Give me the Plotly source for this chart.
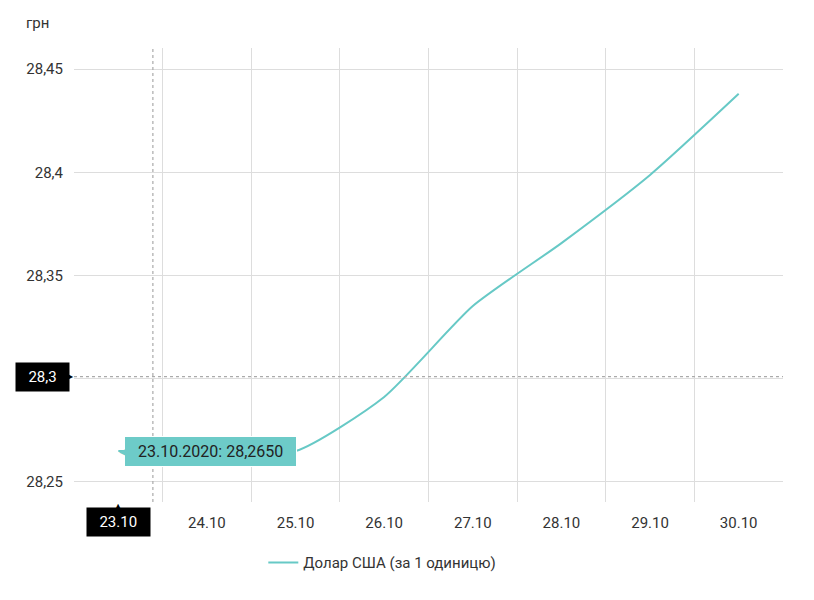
import plotly.graph_objects as go

categories = ["23.10", "24.10", "25.10", "26.10", "27.10", "28.10", "29.10", "30.10"]
rates = [28.265, 28.265, 28.265, 28.2912, 28.3352, 28.3657, 28.3987, 28.4380]
y_tickvals = [28.25, 28.30, 28.35, 28.40, 28.45]
y_ticktext = ["28,25", "28,3", "28,35", "28,4", "28,45"]
series_name = "Долар США (за 1 одиницю)"
y_unit = "грн"
tooltip_text = "23.10.2020: 28,2650"
cursor_x_pos = 0.39
cursor_y_value = 28.301
cursor_y_label = "28,3"
cursor_x_index = 0
cursor_x_label = "23.10"

LINE = "#67C9C6"
TIP = "#6DCBC8"
FONT = "Roboto"
TXT = "#333333"
GRID = "#dddddd"
NB = "\u00a0"

# the cursor labels sit on top of these tick labels in the reference
x_ticktext = ["" if c == cursor_x_label else c for c in categories]
y_ticktext_shown = ["" if t == cursor_y_label else t for t in y_ticktext]

fig = go.Figure()
fig.add_trace(go.Scatter(
    x=categories, y=rates, mode="lines", name=series_name,
    line=dict(color=LINE, width=2, shape="spline", smoothing=0.6),
    hoverinfo="skip",
))

# crosshair lines (cursor)
fig.add_shape(type="line", xref="x", yref="paper", x0=cursor_x_pos, x1=cursor_x_pos, y0=0, y1=1,
              line=dict(color="#aaaaaa", width=1.2, dash="dot"), layer="above")
fig.add_shape(type="line", xref="paper", yref="y", x0=0, x1=1,
              y0=cursor_y_value, y1=cursor_y_value,
              line=dict(color="#aaaaaa", width=1.2, dash="dot"), layer="above")

# tooltip
fig.add_annotation(x=0, y=rates[0], xref="x", yref="y",
                   text=NB * 2 + tooltip_text + NB * 2, showarrow=False, xanchor="left", yanchor="middle",
                   xshift=6, bgcolor=TIP, bordercolor="#ffffff", borderwidth=1, borderpad=5,
                   font=dict(family=FONT, size=16, color="#222222"))
fig.add_annotation(x=0, y=rates[0], xref="x", yref="y",
                   text="◀", showarrow=False, xanchor="left", yanchor="middle",
                   xshift=-1, font=dict(family="DejaVu Sans", size=10, color=TIP))

# y cursor label
fig.add_annotation(x=0, y=cursor_y_value, xref="paper", yref="y",
                   text=NB * 2 + cursor_y_label + NB * 2, showarrow=False,
                   xanchor="right", yanchor="middle", xshift=-4,
                   bgcolor="#000000", borderpad=5,
                   font=dict(family=FONT, size=15, color="#ffffff"))
fig.add_annotation(x=0, y=cursor_y_value, xref="paper", yref="y",
                   text="▶", showarrow=False, xanchor="right", yanchor="middle",
                   xshift=1, borderpad=0, font=dict(family="DejaVu Sans", size=8, color="#000000"))
# x cursor label
fig.add_annotation(x=cursor_x_index, y=0, xref="x", yref="paper",
                   text=NB * 2 + cursor_x_label + NB * 2, showarrow=False,
                   xanchor="center", yanchor="top", yshift=-5,
                   bgcolor="#000000", borderpad=5,
                   font=dict(family=FONT, size=15, color="#ffffff"))
fig.add_annotation(x=cursor_x_index, y=0, xref="x", yref="paper",
                   text="▲", showarrow=False, xanchor="center", yanchor="top",
                   yshift=1, borderpad=0, font=dict(family="DejaVu Sans", size=8, color="#000000"))

# unit label
fig.add_annotation(x=-0.07, y=1.055, xref="paper", yref="paper",
                   text=y_unit, showarrow=False, xanchor="left", yanchor="middle",
                   font=dict(family=FONT, size=15, color=TXT))

fig.update_layout(
    width=814, height=600,
    margin=dict(l=74, r=31, t=48, b=98),
    paper_bgcolor="white", plot_bgcolor="white",
    separators=",.",
    font=dict(family=FONT, size=15, color=TXT),
    showlegend=True,
    legend=dict(orientation="h", x=0.267, xanchor="left", y=-0.134, yanchor="middle",
                font=dict(family=FONT, size=15, color=TXT)),
    xaxis=dict(type="category", tickson="boundaries", range=[-0.5, 7.5],
               tickmode="array", tickvals=categories, ticktext=x_ticktext,
               showgrid=True, gridcolor=GRID, gridwidth=1, zeroline=False,
               showline=False, ticks="", ticklabelstandoff=10,
               tickfont=dict(family=FONT, size=15, color=TXT)),
    yaxis=dict(range=[28.2403, 28.4602], tickvals=y_tickvals, ticktext=y_ticktext_shown,
               showgrid=True, gridcolor=GRID, gridwidth=1, zeroline=False,
               showline=False, ticks="", ticklabelstandoff=10,
               tickfont=dict(family=FONT, size=15, color=TXT)),
)

fig.write_html("out.html")
